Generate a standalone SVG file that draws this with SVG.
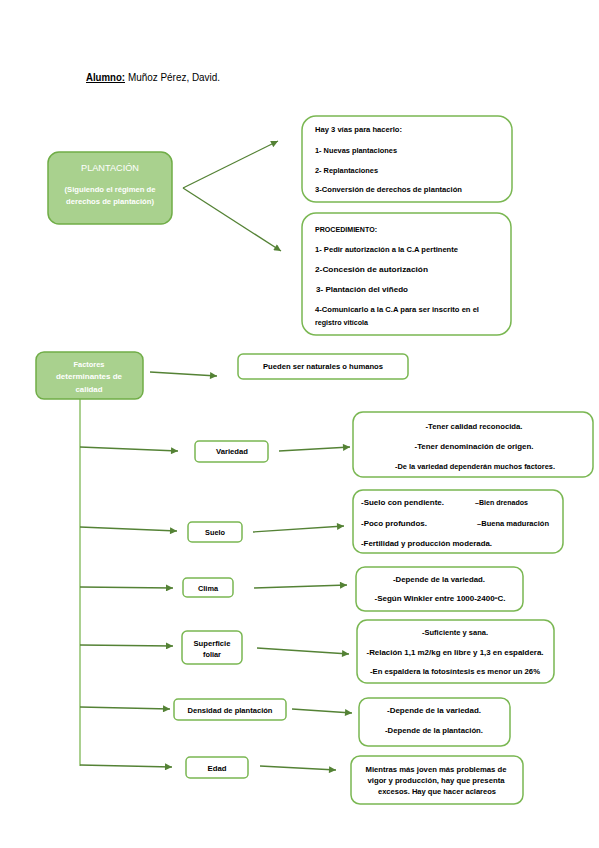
<svg xmlns="http://www.w3.org/2000/svg" width="599" height="848" viewBox="0 0 599 848">
<defs>
<style>
text{font-family:"Liberation Sans",Arial,sans-serif;fill:#000}
.t{font-size:7px}
.b{font-size:7px;font-weight:bold}
.w{fill:#fff;font-size:7.5px}
.wb{fill:#fff;font-size:7.5px;font-weight:bold}
.c{text-anchor:middle}
.box{fill:#fff;stroke:#7ab752;stroke-width:1.5}
.main{fill:#a9d18e;stroke:#70ad47;stroke-width:1.5}
.arr{stroke:#548235;stroke-width:1.3;fill:none;marker-end:url(#ah)}
.vl{stroke:#8fc06b;stroke-width:1.5;fill:none}
</style>
<marker id="ah" viewBox="0 0 10 10" refX="10" refY="5" markerWidth="8" markerHeight="7" markerUnits="userSpaceOnUse" orient="auto">
<path d="M0,0 L10,5 L0,10 z" fill="#548235"/>
</marker>
</defs>
<rect width="599" height="848" fill="#fff"/>

<g id="title">
<text x="86" y="81" style="font-size:10px;font-weight:bold;text-decoration:underline" textLength="39" lengthAdjust="spacingAndGlyphs">Alumno:</text>
<text x="128" y="81" style="font-size:10px" textLength="92" lengthAdjust="spacingAndGlyphs">Muñoz Pérez, David.</text>
</g>

<g id="connectors">
<path class="arr" d="M183,188 L278,141"/>
<path class="arr" d="M183,188 L281,251"/>
<path class="arr" d="M150,372 L217,376"/>
<path class="vl" d="M80,399 L80,766"/>
<path class="arr" d="M80,447 L178,451"/>
<path class="arr" d="M80,527 L177,531"/>
<path class="arr" d="M80,587 L173,588"/>
<path class="arr" d="M80,645 L173,646"/>
<path class="arr" d="M80,707 L170,709"/>
<path class="arr" d="M80,765 L172,767"/>
<path class="arr" d="M279,451 L350,447"/>
<path class="arr" d="M253,532 L344,526"/>
<path class="arr" d="M254,588 L347,585"/>
<path class="arr" d="M257,648 L349,654"/>
<path class="arr" d="M292,709 L352,713"/>
<path class="arr" d="M260,766 L336,770"/>
</g>

<g id="plantacion">
<rect class="main" x="48" y="152" width="124" height="72" rx="11"/>
<text class="w c" x="110" y="171" style="font-size:9px" textLength="58" lengthAdjust="spacingAndGlyphs">PLANTACIÓN</text>
<text class="wb c" x="110" y="192" textLength="91" lengthAdjust="spacingAndGlyphs">(Siguiendo el régimen de</text>
<text class="wb c" x="110" y="204" textLength="88" lengthAdjust="spacingAndGlyphs">derechos de plantación)</text>
</g>

<g id="vias">
<rect class="box" x="302" y="116" width="210" height="86" rx="14"/>
<text class="b" x="315" y="132" textLength="87" lengthAdjust="spacingAndGlyphs">Hay 3 vías para hacerlo:</text>
<text class="b" x="315" y="153" textLength="82" lengthAdjust="spacingAndGlyphs">1- Nuevas plantaciones</text>
<text class="b" x="315" y="173" textLength="63" lengthAdjust="spacingAndGlyphs">2- Replantaciones</text>
<text class="b" x="315" y="192" textLength="147" lengthAdjust="spacingAndGlyphs">3-Conversión de derechos de plantación</text>
</g>

<g id="procedimiento">
<rect class="box" x="302" y="213" width="209" height="122" rx="14"/>
<text class="b" x="315" y="232" textLength="62" lengthAdjust="spacingAndGlyphs">PROCEDIMIENTO:</text>
<text class="b" x="315" y="252" textLength="143" lengthAdjust="spacingAndGlyphs">1- Pedir autorización a la C.A pertinente</text>
<text class="b" x="315" y="272" textLength="113" lengthAdjust="spacingAndGlyphs">2-Concesión de autorización</text>
<text class="b" x="316" y="292" textLength="92" lengthAdjust="spacingAndGlyphs">3- Plantación del viñedo</text>
<text class="b" x="315" y="312" textLength="164" lengthAdjust="spacingAndGlyphs">4-Comunicarlo a la C.A para ser inscrito en el</text>
<text class="b" x="315" y="325" textLength="53" lengthAdjust="spacingAndGlyphs">registro vitícola</text>
</g>

<g id="factores">
<rect class="main" x="36" y="352" width="107" height="47" rx="8"/>
<text class="wb c" x="89" y="367" textLength="31" lengthAdjust="spacingAndGlyphs">Factores</text>
<text class="wb c" x="89" y="379" textLength="66" lengthAdjust="spacingAndGlyphs">determinantes de</text>
<text class="wb c" x="89" y="392" textLength="27" lengthAdjust="spacingAndGlyphs">calidad</text>
</g>

<g id="pueden">
<rect class="box" x="238" y="354" width="170" height="25" rx="5"/>
<text class="b c" x="323" y="369" textLength="120" lengthAdjust="spacingAndGlyphs">Pueden ser naturales o humanos</text>
</g>

<g id="variedad">
<rect class="box" x="195" y="441" width="73" height="21" rx="4"/>
<text class="b c" x="232" y="454" textLength="32" lengthAdjust="spacingAndGlyphs">Variedad</text>
</g>
<g id="variedad-info">
<rect class="box" x="353" y="412" width="240" height="65" rx="10"/>
<text class="b c" x="474" y="429" textLength="97" lengthAdjust="spacingAndGlyphs">-Tener calidad reconocida.</text>
<text class="b c" x="474" y="449" textLength="119" lengthAdjust="spacingAndGlyphs">-Tener denominación de origen.</text>
<text class="b c" x="475" y="469" textLength="160" lengthAdjust="spacingAndGlyphs">-De la variedad dependerán muchos factores.</text>
</g>

<g id="suelo">
<rect class="box" x="188" y="522" width="54" height="20" rx="4"/>
<text class="b c" x="215" y="535" textLength="20" lengthAdjust="spacingAndGlyphs">Suelo</text>
</g>
<g id="suelo-info">
<rect class="box" x="353" y="490" width="210" height="63" rx="10"/>
<text class="b" x="361" y="505" textLength="83" lengthAdjust="spacingAndGlyphs">-Suelo con pendiente.</text>
<text class="b" x="475" y="505" textLength="53" lengthAdjust="spacingAndGlyphs">–Bien drenados</text>
<text class="b" x="361" y="526" textLength="66" lengthAdjust="spacingAndGlyphs">-Poco profundos.</text>
<text class="b" x="477" y="526" textLength="72" lengthAdjust="spacingAndGlyphs">–Buena maduración</text>
<text class="b" x="361" y="546" textLength="131" lengthAdjust="spacingAndGlyphs">-Fertilidad y producción moderada.</text>
</g>

<g id="clima">
<rect class="box" x="183" y="578" width="50" height="19" rx="4"/>
<text class="b c" x="208" y="591" textLength="20" lengthAdjust="spacingAndGlyphs">Clima</text>
</g>
<g id="clima-info">
<rect class="box" x="356" y="567" width="167" height="44" rx="9"/>
<text class="b c" x="439" y="582" textLength="92" lengthAdjust="spacingAndGlyphs">-Depende de la variedad.</text>
<text class="b c" x="440" y="601" textLength="131" lengthAdjust="spacingAndGlyphs">-Según Winkler entre 1000-2400ºC.</text>
</g>

<g id="superficie">
<rect class="box" x="182" y="631" width="60" height="33" rx="5"/>
<text class="b c" x="212" y="646" textLength="37" lengthAdjust="spacingAndGlyphs">Superficie</text>
<text class="b c" x="212" y="657" textLength="18" lengthAdjust="spacingAndGlyphs">foliar</text>
</g>
<g id="superficie-info">
<rect class="box" x="357" y="620" width="197" height="63" rx="10"/>
<text class="b c" x="455" y="635" textLength="66" lengthAdjust="spacingAndGlyphs">-Suficiente y sana.</text>
<text class="b c" x="455" y="655" textLength="177" lengthAdjust="spacingAndGlyphs">-Relación 1,1 m2/kg en libre y 1,3 en espaldera.</text>
<text class="b c" x="455" y="674" textLength="170" lengthAdjust="spacingAndGlyphs">-En espaldera la fotosíntesis es menor un 26%</text>
</g>

<g id="densidad">
<rect class="box" x="174" y="699" width="112" height="21" rx="4"/>
<text class="b c" x="230" y="713" textLength="85" lengthAdjust="spacingAndGlyphs">Densidad de plantación</text>
</g>
<g id="densidad-info">
<rect class="box" x="359" y="698" width="151" height="48" rx="9"/>
<text class="b c" x="434" y="713" textLength="94" lengthAdjust="spacingAndGlyphs">-Depende de la variedad.</text>
<text class="b c" x="434" y="733" textLength="98" lengthAdjust="spacingAndGlyphs">-Depende de la plantación.</text>
</g>

<g id="edad">
<rect class="box" x="186" y="757" width="62" height="21" rx="4"/>
<text class="b c" x="217" y="771" textLength="19" lengthAdjust="spacingAndGlyphs">Edad</text>
</g>
<g id="edad-info">
<rect class="box" x="351" y="756" width="172" height="48" rx="9"/>
<text class="b c" x="436" y="772" textLength="141" lengthAdjust="spacingAndGlyphs">Mientras más joven más problemas de</text>
<text class="b c" x="436" y="783" textLength="137" lengthAdjust="spacingAndGlyphs">vigor y producción, hay que presenta</text>
<text class="b c" x="437" y="794" textLength="118" lengthAdjust="spacingAndGlyphs">excesos. Hay que hacer aclareos</text>
</g>
</svg>
